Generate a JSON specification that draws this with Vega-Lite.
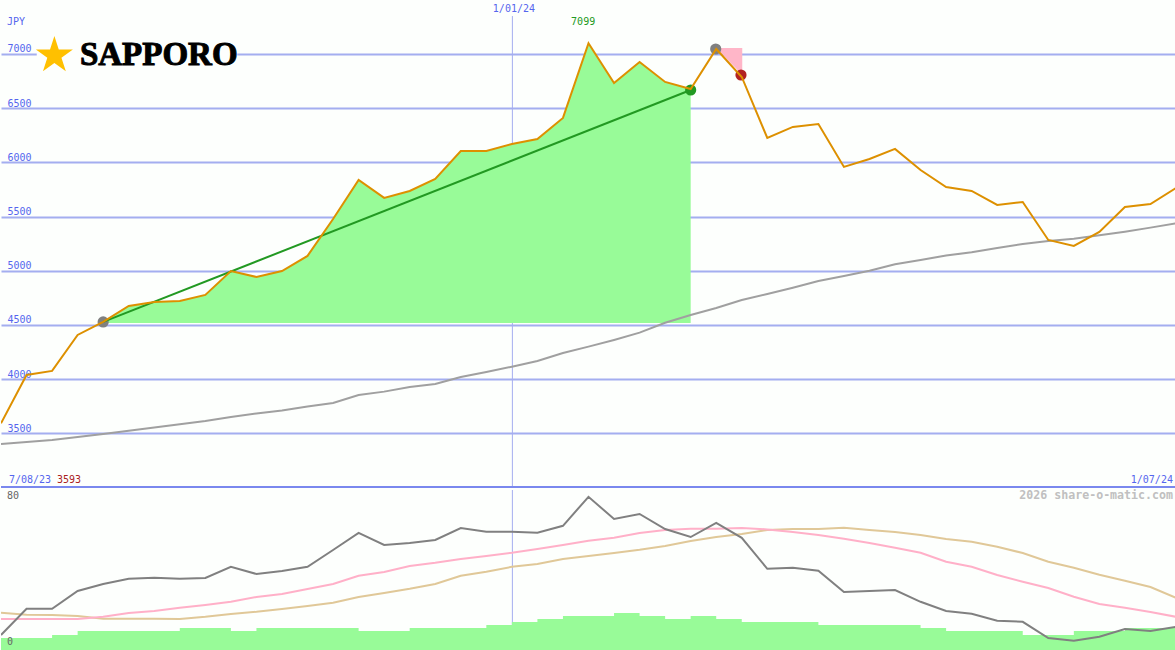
{
"$schema":"https://vega.github.io/schema/vega-lite/v6.json",
"padding":0,"spacing":0,"background":"#fdfffd",
"config":{"view":{"stroke":null}},
"datasets":{
"weeks":[
{"week":0,"close":3593,"average":3402,"oscillator":7.5,"fast":15.5,"slow":18.6,"volume":6},
{"week":1,"close":4039,"average":3421,"oscillator":20.6,"fast":15.5,"slow":17.6,"volume":6},
{"week":2,"close":4076,"average":3439,"oscillator":20.6,"fast":15.5,"slow":17.5,"volume":7.5},
{"week":3,"close":4408,"average":3467,"oscillator":29.5,"fast":15.5,"slow":17,"volume":9.5},
{"week":4,"close":4528,"average":3495,"oscillator":33,"fast":16.6,"slow":15.6,"volume":9.5},
{"week":5,"close":4675,"average":3525,"oscillator":35.6,"fast":18.5,"slow":15.6,"volume":9.5},
{"week":6,"close":4712,"average":3554,"oscillator":36.1,"fast":19.5,"slow":15.6,"volume":9.5},
{"week":7,"close":4721,"average":3585,"oscillator":35.6,"fast":21.1,"slow":15.5,"volume":11},
{"week":8,"close":4777,"average":3614,"oscillator":36,"fast":22.5,"slow":16.6,"volume":11},
{"week":9,"close":4998,"average":3651,"oscillator":41.6,"fast":24.1,"slow":18,"volume":9.5},
{"week":10,"close":4943,"average":3684,"oscillator":38,"fast":26.5,"slow":19.1,"volume":11},
{"week":11,"close":4998,"average":3711,"oscillator":39.5,"fast":28,"slow":20.5,"volume":11},
{"week":12,"close":5137,"average":3748,"oscillator":41.6,"fast":30.5,"slow":22,"volume":11},
{"week":13,"close":5478,"average":3780,"oscillator":50,"fast":33,"slow":23.6,"volume":11},
{"week":14,"close":5838,"average":3854,"oscillator":58.6,"fast":37.1,"slow":26.5,"volume":9.5},
{"week":15,"close":5672,"average":3885,"oscillator":52.5,"fast":39,"slow":28.5,"volume":9.5},
{"week":16,"close":5736,"average":3928,"oscillator":53.5,"fast":42,"slow":30.6,"volume":11},
{"week":17,"close":5847,"average":3956,"oscillator":55,"fast":43.6,"slow":33,"volume":11},
{"week":18,"close":6105,"average":4020,"oscillator":61,"fast":45.5,"slow":37.1,"volume":11},
{"week":19,"close":6105,"average":4067,"oscillator":59.1,"fast":47,"slow":39.1,"volume":12.5},
{"week":20,"close":6170,"average":4115,"oscillator":59.1,"fast":48.6,"slow":41.6,"volume":14},
{"week":21,"close":6216,"average":4168,"oscillator":58.6,"fast":50.5,"slow":43,"volume":15.5},
{"week":22,"close":6410,"average":4242,"oscillator":62.1,"fast":52.5,"slow":45.5,"volume":17},
{"week":23,"close":7099,"average":4300,"oscillator":76.6,"fast":54.6,"slow":47,"volume":17},
{"week":24,"close":6732,"average":4362,"oscillator":65.5,"fast":56.1,"slow":48.5,"volume":18.5},
{"week":25,"close":6926,"average":4429,"oscillator":68,"fast":58.5,"slow":50.1,"volume":17},
{"week":26,"close":6742,"average":4521,"oscillator":60.5,"fast":60,"slow":52,"volume":15.5},
{"week":27,"close":6677,"average":4592,"oscillator":56.5,"fast":60.6,"slow":54.5,"volume":17},
{"week":28,"close":7046,"average":4657,"oscillator":63.6,"fast":60.6,"slow":56.5,"volume":15.5},
{"week":29,"close":6788,"average":4731,"oscillator":56.1,"fast":61,"slow":58,"volume":14},
{"week":30,"close":6225,"average":4786,"oscillator":40.6,"fast":60.3,"slow":60,"volume":14},
{"week":31,"close":6327,"average":4844,"oscillator":41.1,"fast":59,"slow":60.5,"volume":14},
{"week":32,"close":6354,"average":4906,"oscillator":39.6,"fast":57.5,"slow":60.5,"volume":12.5},
{"week":33,"close":5958,"average":4952,"oscillator":29,"fast":55.6,"slow":61.1,"volume":12.5},
{"week":34,"close":6031,"average":5001,"oscillator":29.5,"fast":53.5,"slow":60,"volume":12.5},
{"week":35,"close":6124,"average":5060,"oscillator":30,"fast":51.1,"slow":59,"volume":12.5},
{"week":36,"close":5930,"average":5100,"oscillator":24.1,"fast":48.6,"slow":57.5,"volume":11},
{"week":37,"close":5773,"average":5140,"oscillator":19.5,"fast":44.1,"slow":55.5,"volume":9.5},
{"week":38,"close":5736,"average":5171,"oscillator":18.1,"fast":41.6,"slow":54.1,"volume":9.5},
{"week":39,"close":5607,"average":5210,"oscillator":14.6,"fast":37.5,"slow":51.6,"volume":9.5},
{"week":40,"close":5635,"average":5247,"oscillator":14.1,"fast":34.1,"slow":48.5,"volume":7.5},
{"week":41,"close":5284,"average":5275,"oscillator":6,"fast":31,"slow":44.1,"volume":7.5},
{"week":42,"close":5229,"average":5296,"oscillator":4.6,"fast":26.6,"slow":41.1,"volume":9.5},
{"week":43,"close":5358,"average":5327,"oscillator":6.6,"fast":23,"slow":37.6,"volume":9.5},
{"week":44,"close":5589,"average":5361,"oscillator":10.5,"fast":21.1,"slow":34.6,"volume":11},
{"week":45,"close":5616,"average":5398,"oscillator":9.5,"fast":19,"slow":31.5,"volume":11},
{"week":46,"close":5764,"average":5438,"oscillator":11.6,"fast":16.6,"slow":26.1,"volume":11}
],
"gain":[
{"week":4,"close":4528,"floor":4518},{"week":5,"close":4675,"floor":4518},{"week":6,"close":4712,"floor":4518},{"week":7,"close":4721,"floor":4518},{"week":8,"close":4777,"floor":4518},{"week":9,"close":4998,"floor":4518},{"week":10,"close":4943,"floor":4518},{"week":11,"close":4998,"floor":4518},{"week":12,"close":5137,"floor":4518},{"week":13,"close":5478,"floor":4518},{"week":14,"close":5838,"floor":4518},{"week":15,"close":5672,"floor":4518},{"week":16,"close":5736,"floor":4518},{"week":17,"close":5847,"floor":4518},{"week":18,"close":6105,"floor":4518},{"week":19,"close":6105,"floor":4518},{"week":20,"close":6170,"floor":4518},{"week":21,"close":6216,"floor":4518},{"week":22,"close":6410,"floor":4518},{"week":23,"close":7099,"floor":4518},{"week":24,"close":6732,"floor":4518},{"week":25,"close":6926,"floor":4518},{"week":26,"close":6742,"floor":4518},{"week":27,"close":6677,"floor":4518}
],
"signals":[
{"week":4,"price":4528,"kind":"start"},
{"week":27,"price":6668,"kind":"buy"},
{"week":27.98,"price":7046,"kind":"peak"},
{"week":28.97,"price":6806,"kind":"sell"}
],
"trend":[{"week":4,"price":4528},{"week":27,"price":6668}],
"drop":[{"week":28,"top":7055,"bottom":7055},{"week":29.02,"top":7055,"bottom":6806}],
"priceLabels":[
{"week":0.235,"price":7295,"label":"JPY","kind":"date"},
{"week":0.31,"price":3070,"label":"7/08/23","kind":"date"},
{"week":2.19,"price":3070,"label":"3593","kind":"low"}
]
},
"vconcat":[
{"width":1175,"height":488,
"layer":[
{"data":{"values":[{"x1":1.4,"x2":9.25,"y1":7250,"y2":6750}]},
 "mark":{"type":"rect","fill":"#fdfffd"},
 "encoding":{"x":{"field":"x1","type":"quantitative","scale":{"domain":[0,46],"nice":false,"zero":false},"axis":null},"x2":{"field":"x2"},"y":{"field":"y1","type":"quantitative","scale":{"domain":[2996,7498],"nice":false,"zero":false},"axis":{"values":[3500,4000,4500,5000,5500,6000,6500,7000],"title":null,"domain":false,"ticks":false,"grid":true,"gridColor":"#a4aef0","gridWidth":2,"labelAlign":"left","labelBaseline":"bottom","labelPadding":-6,"labelOffset":0,"labelColor":"#5566ee","labelFont":"DejaVu Sans Mono","labelFontSize":10,"labelOverlap":false,"format":"d","zindex":0}},"y2":{"field":"y2"}}},
{"data":{"values":[{"week":20.02,"from":7350,"to":3005}]},
 "mark":{"type":"rule","stroke":"#a4aef0","strokeWidth":1},
 "encoding":{"x":{"field":"week","type":"quantitative"},"y":{"field":"from","type":"quantitative"},"y2":{"field":"to"}}},
{"data":{"values":[{"price":3005}]},
 "mark":{"type":"rule","stroke":"#7a88ee","strokeWidth":2},
 "encoding":{"y":{"field":"price","type":"quantitative"}}},
{"data":{"name":"gain"},
 "mark":{"type":"area","fill":"#98fb98","opacity":1},
 "encoding":{"x":{"field":"week","type":"quantitative"},"y":{"field":"close","type":"quantitative"},"y2":{"field":"floor"}}},
{"data":{"name":"drop"},
 "mark":{"type":"area","fill":"#ffb6c8","opacity":1},
 "encoding":{"x":{"field":"week","type":"quantitative"},"y":{"field":"top","type":"quantitative"},"y2":{"field":"bottom"}}},
{"data":{"name":"weeks"},
 "mark":{"type":"line","stroke":"#a0a0a0","strokeWidth":2,"clip":true},
 "encoding":{"x":{"field":"week","type":"quantitative"},"y":{"field":"average","type":"quantitative"}}},
{"data":{"name":"signals"},
 "mark":{"type":"point","filled":true,"opacity":1,"size":125,"shape":"circle"},
 "encoding":{"x":{"field":"week","type":"quantitative"},"y":{"field":"price","type":"quantitative"},
 "color":{"field":"kind","type":"nominal","legend":null,"scale":{"domain":["start","buy","peak","sell"],"range":["#808080","#229922","#808080","#b22222"]}}}},
{"data":{"name":"trend"},
 "mark":{"type":"line","stroke":"#229922","strokeWidth":2},
 "encoding":{"x":{"field":"week","type":"quantitative"},"y":{"field":"price","type":"quantitative"}}},
{"data":{"name":"weeks"},
 "mark":{"type":"line","stroke":"#dd9000","strokeWidth":2,"clip":true},
 "encoding":{"x":{"field":"week","type":"quantitative"},"y":{"field":"close","type":"quantitative"}}},
{"data":{"name":"priceLabels"},
 "mark":{"type":"text","font":"DejaVu Sans Mono","fontSize":10,"baseline":"middle","align":"left"},
 "encoding":{"x":{"field":"week","type":"quantitative"},"y":{"field":"price","type":"quantitative"},"text":{"field":"label"},
 "fill":{"field":"kind","type":"nominal","legend":null,"scale":{"domain":["date","low"],"range":["#5566ee","#aa2222"]}}}},
{"data":{"values":[{"week":20.08,"price":7415,"label":"1/01/24"}]},
 "mark":{"type":"text","font":"DejaVu Sans Mono","fontSize":10,"baseline":"middle","align":"center","fill":"#5566ee"},
 "encoding":{"x":{"field":"week","type":"quantitative"},"y":{"field":"price","type":"quantitative"},"text":{"field":"label"}}},
{"data":{"values":[{"week":22.79,"price":7295,"label":"7099"}]},
 "mark":{"type":"text","font":"DejaVu Sans Mono","fontSize":10,"baseline":"middle","align":"center","fill":"#229922"},
 "encoding":{"x":{"field":"week","type":"quantitative"},"y":{"field":"price","type":"quantitative"},"text":{"field":"label"}}},
{"data":{"values":[{"week":45.88,"price":3070,"label":"1/07/24"}]},
 "mark":{"type":"text","font":"DejaVu Sans Mono","fontSize":10,"baseline":"middle","align":"right","fill":"#5566ee"},
 "encoding":{"x":{"field":"week","type":"quantitative"},"y":{"field":"price","type":"quantitative"},"text":{"field":"label"}}},
{"data":{"values":[{"week":2.09,"price":6986}]},
 "mark":{"type":"point","filled":true,"opacity":1,"fill":"#ffc000","size":1513,"shape":"M0,-1L0.225,-0.309L0.951,-0.309L0.363,0.118L0.588,0.809L0,0.382L-0.588,0.809L-0.363,0.118L-0.951,-0.309L-0.225,-0.309Z"},
 "encoding":{"x":{"field":"week","type":"quantitative"},"y":{"field":"price","type":"quantitative"}}},
{"data":{"values":[{"week":3.09,"price":6990,"label":"SAPPORO"}]},
 "mark":{"type":"text","font":"Liberation Serif","fontWeight":"bold","fontSize":33,"align":"left","baseline":"middle","fill":"#000000","stroke":"#000000","strokeWidth":1},
 "encoding":{"x":{"field":"week","type":"quantitative"},"y":{"field":"price","type":"quantitative"},"text":{"field":"label"}}}
],
"resolve":{"scale":{"color":"independent","fill":"independent"}}},
{"width":1175,"height":162,
"layer":[
{"data":{"values":[{"week":20.02,"from":80,"to":10}]},
 "mark":{"type":"rule","stroke":"#a4aef0","strokeWidth":1},
 "encoding":{"x":{"field":"week","type":"quantitative","scale":{"domain":[0,46],"nice":false,"zero":false},"axis":null},"y":{"field":"from","type":"quantitative","scale":{"domain":[-1,80],"nice":false,"zero":false},"axis":null},"y2":{"field":"to"}}},
{"data":{"name":"weeks"},
 "mark":{"type":"area","fill":"#98fb98","opacity":1,"interpolate":"step-after"},
 "encoding":{"x":{"field":"week","type":"quantitative"},"y":{"field":"volume","type":"quantitative"}}},
{"data":{"name":"weeks"},
 "mark":{"type":"line","stroke":"#e0c898","strokeWidth":2,"clip":true},
 "encoding":{"x":{"field":"week","type":"quantitative"},"y":{"field":"slow","type":"quantitative"}}},
{"data":{"name":"weeks"},
 "mark":{"type":"line","stroke":"#ffb0c8","strokeWidth":2,"clip":true},
 "encoding":{"x":{"field":"week","type":"quantitative"},"y":{"field":"fast","type":"quantitative"}}},
{"data":{"name":"weeks"},
 "mark":{"type":"line","stroke":"#808080","strokeWidth":2,"clip":true},
 "encoding":{"x":{"field":"week","type":"quantitative"},"y":{"field":"oscillator","type":"quantitative"}}},
{"data":{"values":[{"week":0.235,"level":77,"label":"80"},{"week":0.235,"level":4,"label":"0"}]},
 "mark":{"type":"text","font":"DejaVu Sans Mono","fontSize":10,"align":"left","baseline":"middle","fill":"#666666"},
 "encoding":{"x":{"field":"week","type":"quantitative"},"y":{"field":"level","type":"quantitative"},"text":{"field":"label"}}},
{"data":{"values":[{"week":45.88,"level":77,"label":"2026 share-o-matic.com"}]},
 "mark":{"type":"text","font":"DejaVu Sans Mono","fontWeight":"bold","fontSize":11.6,"align":"right","baseline":"middle","fill":"#c0c0c0"},
 "encoding":{"x":{"field":"week","type":"quantitative"},"y":{"field":"level","type":"quantitative"},"text":{"field":"label"}}}
]}
]
}
